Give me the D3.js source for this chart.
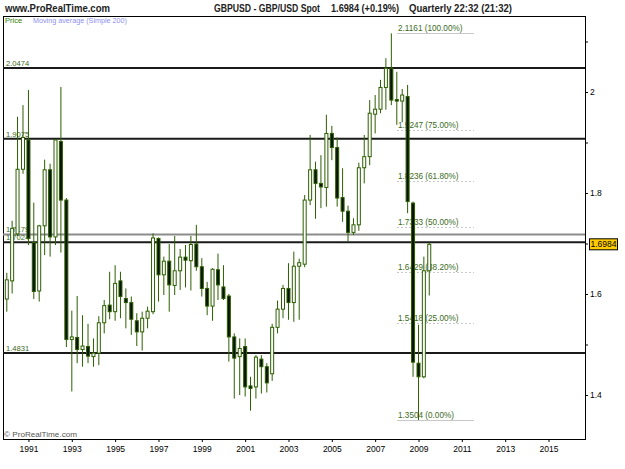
<!DOCTYPE html>
<html>
<head>
<meta charset="utf-8">
<script src="https://cdn.jsdelivr.net/npm/d3@7/dist/d3.min.js"></script>
<style>
    body { margin: 0; background: #fff; }
    svg { display: block; font-family: "Liberation Sans", Arial, sans-serif; }
</style>
</head>
<body>
<svg id="chart-display" width="625" height="469"></svg>
<script>
// Quarterly bars, first one is 1990 Q1
const firstQuarter = new Date(1990, 0, 1);

const opens = [
    1.590, 1.626, 1.719, 1.847, 1.905, 1.702, 1.606, 1.735, 1.846, 1.713,
    1.902, 1.786, 1.510, 1.514, 1.490, 1.496, 1.476, 1.483, 1.543, 1.578,
    1.565, 1.626, 1.591, 1.583, 1.547, 1.525, 1.552, 1.565, 1.710, 1.638,
    1.665, 1.617, 1.646, 1.673, 1.666, 1.699, 1.654, 1.611, 1.576, 1.648,
    1.614, 1.596, 1.515, 1.476, 1.496, 1.418, 1.416, 1.471, 1.456, 1.442,
    1.534, 1.570, 1.611, 1.583, 1.655, 1.659, 1.786, 1.846, 1.819, 1.811,
    1.918, 1.890, 1.791, 1.764, 1.722, 1.737, 1.850, 1.872, 1.956, 1.966,
    2.009, 2.047, 1.985, 1.982, 1.991, 1.780, 1.463, 1.436, 1.646
];
const highs = [
    1.642, 1.745, 1.951, 1.974, 2.004, 1.781, 1.737, 1.866, 1.858, 1.907,
    2.010, 1.790, 1.567, 1.596, 1.558, 1.541, 1.512, 1.556, 1.588, 1.644,
    1.657, 1.644, 1.611, 1.595, 1.562, 1.565, 1.575, 1.720, 1.712, 1.674,
    1.699, 1.715, 1.689, 1.697, 1.715, 1.737, 1.671, 1.624, 1.651, 1.680,
    1.657, 1.600, 1.522, 1.512, 1.512, 1.436, 1.479, 1.479, 1.463, 1.541,
    1.587, 1.618, 1.661, 1.684, 1.670, 1.796, 1.915, 1.862, 1.875, 1.955,
    1.933, 1.910, 1.849, 1.775, 1.750, 1.860, 1.915, 1.984, 1.994, 2.024,
    2.067, 2.1161, 2.040, 2.006, 2.014, 1.783, 1.539, 1.674, 1.702
];
const lows = [
    1.565, 1.601, 1.715, 1.838, 1.697, 1.590, 1.585, 1.677, 1.674, 1.697,
    1.682, 1.495, 1.407, 1.463, 1.456, 1.463, 1.456, 1.459, 1.522, 1.550,
    1.547, 1.552, 1.532, 1.519, 1.497, 1.488, 1.532, 1.560, 1.585, 1.598,
    1.565, 1.598, 1.608, 1.613, 1.607, 1.646, 1.595, 1.558, 1.547, 1.588,
    1.588, 1.466, 1.393, 1.400, 1.397, 1.369, 1.393, 1.403, 1.405, 1.428,
    1.522, 1.552, 1.549, 1.545, 1.549, 1.653, 1.776, 1.749, 1.770, 1.773,
    1.865, 1.773, 1.743, 1.704, 1.717, 1.725, 1.819, 1.855, 1.918, 1.958,
    1.965, 1.974, 1.935, 1.940, 1.760, 1.436, 1.3504, 1.433, 1.597
];
const closes = [
    1.628, 1.730, 1.847, 1.910, 1.710, 1.605, 1.735, 1.846, 1.713, 1.905,
    1.786, 1.510, 1.515, 1.490, 1.497, 1.477, 1.483, 1.543, 1.577, 1.565,
    1.621, 1.595, 1.583, 1.550, 1.525, 1.552, 1.566, 1.711, 1.638, 1.665,
    1.618, 1.646, 1.673, 1.667, 1.698, 1.654, 1.611, 1.576, 1.649, 1.618,
    1.591, 1.515, 1.473, 1.492, 1.416, 1.413, 1.475, 1.456, 1.424, 1.534,
    1.570, 1.611, 1.583, 1.655, 1.662, 1.786, 1.846, 1.819, 1.812, 1.918,
    1.890, 1.790, 1.764, 1.722, 1.737, 1.850, 1.872, 1.958, 1.966, 2.009,
    2.047, 1.984, 1.982, 1.994, 1.783, 1.465, 1.436, 1.646, 1.6984
];

const levelLines = [2.0474, 1.9075, 1.7179, 1.7024, 1.4831];
const fibValues = [2.1161, 1.9247, 1.8236, 1.7333, 1.6429, 1.5418, 1.3504];
const fibPercents = ["100.00%", "75.00%", "61.80%", "50.00%", "38.20%", "25.00%", "0.00%"];
const yearTicks = [1991, 1993, 1995, 1997, 1999, 2001, 2003, 2005, 2007, 2009, 2011, 2013, 2015];
const priceTicks = [1.4, 1.5, 1.6, 1.7, 1.8, 1.9, 2.0, 2.1];
const priceLabelled = [1.4, 1.6, 1.8, 2.0];
const lastPrice = 1.6984;

const viewCandleChart = {
    init: function() {
        this.svg = d3.select("#chart-display");
        this.svg.selectAll("*").remove();
    },
    render: function() {
        const left = 3, right = 585, top = 16, bottom = 439;
        const green = "#2d5f00", labelGreen = "#3b6a1c";

        const x = d3.scaleTime()
            .domain([new Date(1990, 0, 1), new Date(2015, 0, 1)])
            .range([6.8, 548.5]);
        const y = d3.scaleLinear()
            .domain([1.4, 2.0])
            .range([395, 92]);

        const bars = opens.map((o, i) => ({
            date: d3.timeMonth.offset(firstQuarter, 3 * i),
            open: o, high: highs[i], low: lows[i], close: closes[i]
        }));

        // Header
        const svg = this.svg;
        svg.append("text").attr("x", 5).attr("y", 12)
            .attr("font-size", "10px").attr("font-weight", "bold").attr("fill", "#222")
            .attr("textLength", 105).attr("lengthAdjust", "spacingAndGlyphs")
            .text("www.ProRealTime.com");
        const head = [
            ["GBPUSD - GBP/USD Spot", 214, 106],
            ["1.6984 (+0.19%)", 331, 68],
            ["Quarterly  22:32 (21:32)", 409, 103]
        ];
        svg.selectAll("text.head").data(head).join("text")
            .attr("class", "head")
            .attr("x", d => d[1]).attr("y", 12)
            .attr("font-size", "10px").attr("font-weight", "bold").attr("fill", "#222")
            .attr("textLength", d => d[2]).attr("lengthAdjust", "spacingAndGlyphs")
            .text(d => d[0]);

        // Frame
        svg.append("rect")
            .attr("x", left + 0.5).attr("y", top + 0.5)
            .attr("width", right - left).attr("height", bottom - top)
            .attr("fill", "none").attr("stroke", "#000");

        svg.append("text").attr("x", 5).attr("y", 23)
            .attr("font-size", "7.5px").attr("fill", "#2f7d00")
            .text("Price");
        svg.append("text").attr("x", 33).attr("y", 23)
            .attr("font-size", "7.5px").attr("fill", "#8f8ff0")
            .attr("textLength", 94).attr("lengthAdjust", "spacingAndGlyphs")
            .text("Moving average (Simple 200)");

        // Fibonacci retracement
        const fib = svg.append("g").attr("class", "fib");
        fib.selectAll("line").data(fibValues).join("line")
            .attr("x1", 397).attr("x2", 474)
            .attr("y1", d => Math.round(y(d)) + 0.5).attr("y2", d => Math.round(y(d)) + 0.5)
            .attr("stroke", "#c8c8c8")
            .attr("stroke-dasharray", (d, i) => (i === 0 || i === fibValues.length - 1) ? null : "2,2");
        fib.selectAll("text").data(fibValues).join("text")
            .attr("x", 398).attr("y", d => y(d) - 2)
            .attr("font-size", "8.2px").attr("fill", labelGreen)
            .text((d, i) => `${d.toFixed(4)} (${fibPercents[i]})`);

        // Horizontal levels
        const levels = svg.append("g").attr("class", "levels");
        levels.selectAll("line").data(levelLines).join("line")
            .attr("x1", left).attr("x2", right)
            .attr("y1", d => y(d)).attr("y2", d => y(d))
            .attr("stroke", d => d === 1.7179 ? "#8c8c8c" : "#1a1a1a")
            .attr("stroke-width", 2);
        levels.selectAll("text").data(levelLines).join("text")
            .attr("x", 6).attr("y", d => y(d) - 2)
            .attr("font-size", "7.6px").attr("fill", labelGreen)
            .text(d => d.toFixed(4));

        // Candles
        const candle = svg.append("g").attr("class", "candles")
            .selectAll("g").data(bars).join("g")
            .attr("transform", d => `translate(${x(d.date)},0)`);
        candle.append("line")
            .attr("y1", d => y(d.high)).attr("y2", d => y(d.low))
            .attr("stroke", green);
        candle.append("rect")
            .attr("x", -1.5).attr("width", 3)
            .attr("y", d => y(Math.max(d.open, d.close)))
            .attr("height", d => Math.max(1, Math.abs(y(d.open) - y(d.close))))
            .attr("fill", d => d.close >= d.open ? "#fff" : "#081400")
            .attr("stroke", green);

        // Axes
        const yAxis = svg.append("g")
            .attr("transform", `translate(${right},0)`)
            .call(d3.axisRight(y)
                .tickValues(priceTicks)
                .tickSize(3)
                .tickPadding(2)
                .tickFormat(d => priceLabelled.some(v => Math.abs(v - d) < 1e-9) ? d3.format("~g")(d) : ""));
        yAxis.select(".domain").remove();
        yAxis.selectAll("text").attr("font-size", "8.5px").attr("fill", "#000");

        const xAxis = svg.append("g")
            .attr("transform", `translate(0,${bottom})`)
            .call(d3.axisBottom(x)
                .tickValues(yearTicks.map(yr => new Date(yr, 0, 1)))
                .tickSize(3)
                .tickPadding(4)
                .tickFormat(d3.timeFormat("%Y")));
        xAxis.select(".domain").remove();
        xAxis.selectAll("text").attr("font-size", "8.5px").attr("fill", "#000");

        // Last price tag
        const tag = svg.append("g").attr("transform", `translate(589,${y(lastPrice)})`);
        tag.append("rect")
            .attr("x", 0.5).attr("y", -5.5).attr("width", 28).attr("height", 11)
            .attr("fill", "#ffcc00").attr("stroke", "#000");
        tag.append("text")
            .attr("x", 14.5).attr("y", 3)
            .attr("text-anchor", "middle")
            .attr("font-size", "8.5px").attr("fill", "#000")
            .text(d3.format(".4f")(lastPrice));

        svg.append("text").attr("x", 4).attr("y", 437)
            .attr("font-size", "8px").attr("fill", "#555")
            .attr("textLength", 73).attr("lengthAdjust", "spacingAndGlyphs")
            .text("\u00a9 ProRealTime.com");
    }
};

viewCandleChart.init();
viewCandleChart.render();
</script>
</body>
</html>
